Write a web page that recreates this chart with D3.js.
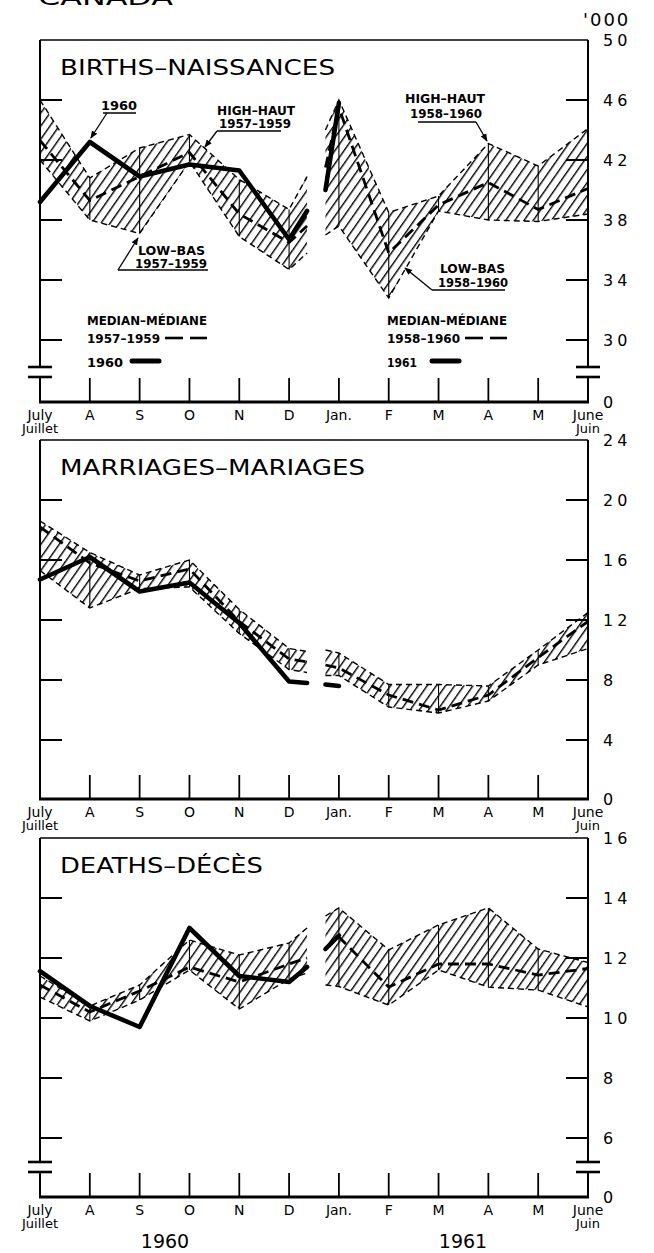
<!DOCTYPE html>
<html>
<head>
<meta charset="utf-8">
<script src="https://cdn.jsdelivr.net/npm/d3@7"></script>
<style>
body { margin: 0; background: #fff; }
svg { display: block; background: #fff; }
text { font-family: "DejaVu Sans", sans-serif; fill: #000; }
</style>
</head>
<body>
<svg width="654" height="1253"></svg>
<script>
// month index: 0 = July 1960 ... 11 = June 1961
var months  = ["July", "A", "S", "O", "N", "D", "Jan.", "F", "M", "A", "M", "June"];
var months2 = ["Juillet", "", "", "", "", "", "", "", "", "", "", "Juin"];
// the last point of the left half and the first of the right half are the short
// pieces drawn either side of the Dec / Jan break
var leftX  = [0, 1, 2, 3, 4, 5, 5.36];
var rightX = [5.73, 6, 7, 8, 9, 10, 11];
var curX   = [5.73, 6];

// births, thousands
var birthsHighL = [46.0, 40.8, 42.8, 43.7, 40.7, 38.7, 40.9];
var birthsLowL  = [42.0, 38.0, 37.1, 41.9, 36.9, 34.7, 35.8];
var birthsMedL  = [43.3, 39.3, 40.9, 42.5, 38.4, 36.5, 37.6];
var births1960  = [39.2, 43.2, 40.9, 41.7, 41.3, 36.7, 38.6];
var birthsHighR = [44.0, 46.0, 38.5, 39.6, 43.1, 41.6, 44.1];
var birthsLowR  = [37.0, 37.6, 32.8, 38.6, 38.0, 37.9, 38.4];
var birthsMedR  = [41.5, 45.5, 35.8, 39.0, 40.5, 38.7, 40.1];
var births1961  = [40.0, 45.8];

// marriages, thousands
var marrHighL = [18.6, 16.5, 15.0, 16.0, 12.7, 10.1, 9.9];
var marrLowL  = [15.3, 12.8, 14.1, 14.2, 11.1, 8.7, 8.5];
var marrMedL  = [18.2, 15.8, 14.6, 15.4, 11.9, 9.4, 9.2];
var marr1960  = [14.7, 16.2, 13.9, 14.5, 11.8, 7.9, 7.8];
var marrHighR = [10.0, 9.8, 7.7, 7.7, 7.6, 10.0, 12.5];
var marrLowR  = [8.3, 8.3, 6.2, 5.8, 6.6, 9.0, 10.1];
var marrMedR  = [9.0, 8.8, 7.0, 6.0, 7.0, 9.5, 11.9];
var marr1961  = [7.7, 7.6];

// deaths, thousands
var deathHighL = [11.4, 10.4, 11.1, 12.6, 12.1, 12.5, 13.0];
var deathLowL  = [10.7, 9.9, 10.6, 11.6, 10.3, 11.3, 11.5];
var deathMedL  = [11.1, 10.2, 10.9, 11.7, 11.2, 11.8, 12.0];
var death1960  = [11.56, 10.4, 9.7, 13.0, 11.4, 11.2, 11.7];
var deathHighR = [13.4, 13.67, 12.27, 13.1, 13.67, 12.3, 11.85];
var deathLowR  = [11.1, 11.05, 10.43, 11.6, 11.03, 10.93, 10.37];
var deathMedR  = [12.3, 12.7, 11.03, 11.8, 11.8, 11.43, 11.65];
var death1961  = [12.3, 12.75];

var birthTicks = [46, 42, 38, 34, 30];
var birthLabels = [50, 46, 42, 38, 34, 30];
var marrTicks = [20, 16, 12, 8, 4];
var marrLabels = [24, 20, 16, 12, 8, 4];
var deathTicks = [14, 12, 10, 8, 6];
var deathLabels = [16, 14, 12, 10, 8, 6];

var svg = d3.select("svg");
var x = d3.scaleLinear().domain([0, 11]).range([40, 588]);

var defs = svg.append("defs");
defs.append("pattern").attr("id", "hatch").attr("patternUnits", "userSpaceOnUse")
  .attr("width", 7.5).attr("height", 7.5).attr("patternTransform", "rotate(35)")
  .append("line").attr("x1", 0.7).attr("y1", 0).attr("x2", 0.7).attr("y2", 7.5)
  .attr("stroke", "#000").attr("stroke-width", 1.4);
defs.append("marker").attr("id", "arrow").attr("viewBox", "0 0 10 10")
  .attr("refX", 9).attr("refY", 5).attr("markerWidth", 6).attr("markerHeight", 6)
  .attr("orient", "auto")
  .append("path").attr("d", "M0,1L10,5L0,9z").attr("fill", "#000");

var panels = [
  {title: "BIRTHS–NAISSANCES", titleW: 275, titleY: 75, top: 40, bottom: 402,
   dom: [50, 30], rng: [40, 340], ticks: birthTicks, labels: birthLabels, brk: true,
   left: [birthsHighL, birthsLowL, birthsMedL, births1960],
   right: [birthsHighR, birthsLowR, birthsMedR, births1961]},
  {title: "MARRIAGES–MARIAGES", titleW: 305, titleY: 475, top: 440, bottom: 799,
   dom: [24, 0], rng: [440, 800], ticks: marrTicks, labels: marrLabels, brk: false,
   left: [marrHighL, marrLowL, marrMedL, marr1960],
   right: [marrHighR, marrLowR, marrMedR, marr1961]},
  {title: "DEATHS–DÉCÈS", titleW: 203, titleY: 873, top: 838, bottom: 1197,
   dom: [16, 6], rng: [838, 1138], ticks: deathTicks, labels: deathLabels, brk: true,
   left: [deathHighL, deathLowL, deathMedL, death1960],
   right: [deathHighR, deathLowR, deathMedR, death1961]}
];

function line(g, x1, y1, x2, y2, w) {
  return g.append("line").attr("x1", x1).attr("y1", y1).attr("x2", x2).attr("y2", y2)
    .attr("stroke", "#000").attr("stroke-width", w);
}

function drawHalf(g, y, xs, s) {
  var high = s[0], low = s[1], med = s[2], cur = s[3];
  var pts = xs.map(function (d, i) { return {m: d, hi: high[i], lo: low[i], md: med[i]}; });
  var area = d3.area().x(function (d) { return x(d.m); })
    .y0(function (d) { return y(d.lo); }).y1(function (d) { return y(d.hi); });
  g.append("path").attr("d", area(pts)).attr("fill", "url(#hatch)");
  pts.filter(function (d) { return d.m % 1 === 0; }).forEach(function (d) {
    line(g, x(d.m), y(d.hi), x(d.m), y(d.lo), 1.1);
  });
  var ln = function (key) {
    return d3.line().x(function (d) { return x(d.m); }).y(function (d) { return y(d[key]); });
  };
  g.append("path").attr("d", ln("hi")(pts)).attr("fill", "none").attr("stroke", "#000")
    .attr("stroke-width", 1.4).attr("stroke-dasharray", "6,4");
  g.append("path").attr("d", ln("lo")(pts)).attr("fill", "none").attr("stroke", "#000")
    .attr("stroke-width", 1.4).attr("stroke-dasharray", "6,4");
  g.append("path").attr("d", ln("md")(pts)).attr("fill", "none").attr("stroke", "#000")
    .attr("stroke-width", 2.8).attr("stroke-dasharray", "11,6");
  var cx = cur.length === 2 ? curX : xs;
  var cl = d3.line().x(function (d, i) { return x(cx[i]); }).y(function (d) { return y(d); });
  g.append("path").attr("d", cl(cur)).attr("fill", "none").attr("stroke", "#000")
    .attr("stroke-width", 4.6).attr("stroke-linejoin", "round").attr("stroke-linecap", "round");
}

panels.forEach(function (p) {
  var g = svg.append("g");
  var y = d3.scaleLinear().domain(p.dom).range(p.rng);
  var L = x(0), R = x(11);

  // frame
  line(g, L, p.top, R, p.top, 1.6);
  if (p.brk) {
    [L, R].forEach(function (xx) {
      line(g, xx, p.top, xx, p.bottom - 35, 2);
      line(g, xx, p.bottom - 25, xx, p.bottom, 2);
      line(g, xx - 12, p.bottom - 35, xx + 12, p.bottom - 35, 2.6);
      line(g, xx - 12, p.bottom - 25, xx + 12, p.bottom - 25, 2.6);
    });
  } else {
    line(g, L, p.top, L, p.bottom, 2);
    line(g, R, p.top, R, p.bottom, 2);
  }
  line(g, L - 1, p.bottom, R + 1, p.bottom, 3);

  p.ticks.forEach(function (t) {
    line(g, L, y(t), L + 22, y(t), 2);
    line(g, R - 22, y(t), R, y(t), 2);
  });
  p.labels.forEach(function (t) {
    g.append("text").attr("x", 603).attr("y", y(t)).attr("dy", "0.36em")
      .attr("font-size", 16).attr("letter-spacing", 4).text(t);
  });
  g.append("text").attr("x", 603).attr("y", p.bottom).attr("dy", "0.36em")
    .attr("font-size", 16).text("0");

  months.forEach(function (m, i) {
    if (i > 0 && i < 11) line(g, x(i), p.bottom - 24, x(i), p.bottom, 1.8);
    g.append("text").attr("x", x(i)).attr("y", p.bottom + 18).attr("text-anchor", "middle")
      .attr("font-size", 14).text(m);
    if (months2[i]) g.append("text").attr("x", x(i)).attr("y", p.bottom + 31)
      .attr("text-anchor", "middle").attr("font-size", 13).text(months2[i]);
  });

  g.append("text").attr("x", 60).attr("y", p.titleY).attr("font-size", 22)
    .attr("textLength", p.titleW).attr("lengthAdjust", "spacingAndGlyphs").text(p.title);

  drawHalf(g, y, leftX, p.left);
  drawHalf(g, y, rightX, p.right);
  p.y = y;
});

// units and year labels
svg.append("text").attr("x", 583).attr("y", 26).attr("font-size", 18).attr("letter-spacing", 2).text("'000");
svg.append("text").attr("x", 38).attr("y", 5).attr("font-size", 22).attr("textLength", 135)
  .attr("lengthAdjust", "spacingAndGlyphs").text("CANADA");
svg.append("text").attr("x", 165).attr("y", 1248).attr("text-anchor", "middle").attr("font-size", 19).text("1960");
svg.append("text").attr("x", 463).attr("y", 1248).attr("text-anchor", "middle").attr("font-size", 19).text("1961");

// annotations on the births panel
var yB = panels[0].y;
function label(txt, x0, y0, w) {
  svg.append("text").attr("x", x0).attr("y", y0).attr("font-size", 11.5).attr("font-weight", "bold")
    .attr("textLength", w).attr("lengthAdjust", "spacingAndGlyphs").text(txt);
}
function leader(x1, y1, x2, y2) {
  line(svg, x1, y1, x2, y2, 1.3).attr("marker-end", "url(#arrow)");
}
label("1960", 101, 110, 36);
line(svg, 103, 113, 136, 113, 1.3);
leader(107, 113, x(1) + 1, yB(43.2) - 4);

label("HIGH–HAUT", 217, 115, 78);
label("1957–1959", 219, 128, 72);
line(svg, 217, 131, 281, 131, 1.3);
leader(217, 131, 205, 147);

label("LOW–BAS", 138, 255, 67);
label("1957–1959", 135, 268, 72);
line(svg, 118, 270, 208, 270, 1.3);
leader(118, 270, 138, 238);

label("HIGH–HAUT", 405, 103, 80);
label("1958–1960", 410, 118, 72);
line(svg, 418, 122, 476, 122, 1.3);
leader(476, 122, 487, 141);

label("LOW–BAS", 440, 273, 65);
label("1958–1960", 438, 287, 70);
line(svg, 432, 290, 505, 290, 1.3);
leader(432, 290, 405, 268);

// legends
[[87, "1957–1959", "1960"], [387, "1958–1960", "1961"]].forEach(function (d) {
  var x0 = d[0];
  label("MEDIAN–MÉDIANE", x0, 325, 120);
  label(d[1], x0, 343, 73);
  line(svg, x0 + 78, 338, x0 + 96, 338, 2.6);
  line(svg, x0 + 103, 338, x0 + 120, 338, 2.6);
  label(d[2], x0, 367, d[2] === "1960" ? 36 : 30);
  line(svg, x0 + 45, 361, x0 + 72, 361, 5).attr("stroke-linecap", "round");
});
</script>
</body>
</html>
